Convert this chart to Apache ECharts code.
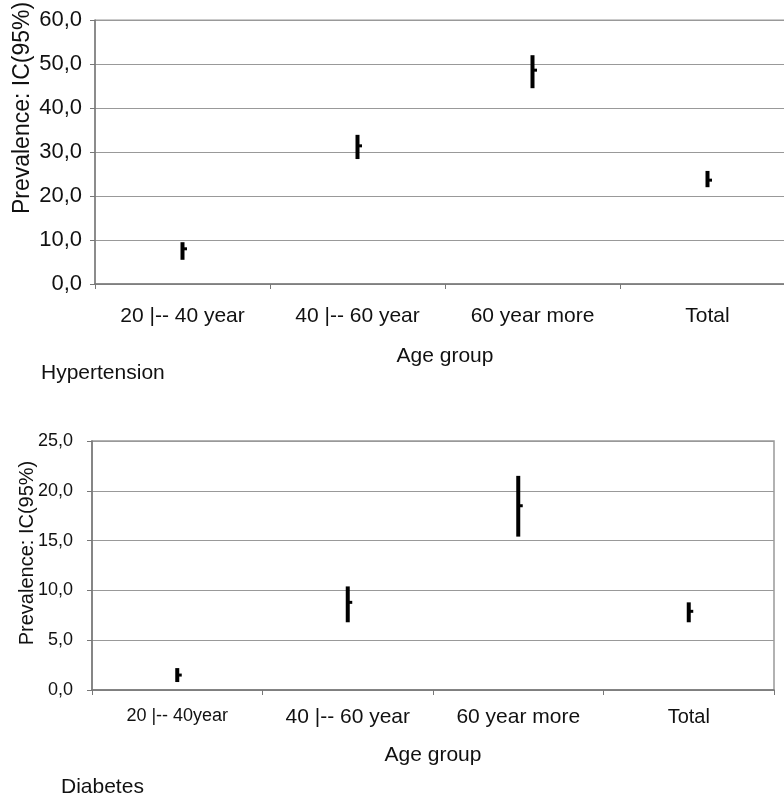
<!DOCTYPE html>
<html>
<head>
<meta charset="utf-8">
<script src="https://cdn.jsdelivr.net/npm/echarts@6/dist/echarts.min.js"></script>
<style>
  html, body { margin: 0; padding: 0; background: #fff; }
  #chart { width: 784px; height: 793px; }
</style>
</head>
<body>
<div id="chart"></div>
<script>
// age groups (the lower panel writes the first one without a space)
const groupsHtn = ['20 |-- 40 year', '40 |-- 60 year', '60 year more', 'Total']
const groupsDm = ['20 |-- 40year', '40 |-- 60 year', '60 year more', 'Total']

// hypertension prevalence with 95% CI
const htnMean = [8.0, 31.4, 48.6, 23.6]
const htnLow = [5.5, 28.4, 44.5, 22.0]
const htnHigh = [9.5, 33.9, 52.0, 25.7]

// diabetes prevalence with 95% CI
const dmMean = [1.5, 8.8, 18.5, 7.9]
const dmLow = [0.8, 6.8, 15.4, 6.8]
const dmHigh = [2.2, 10.4, 21.5, 8.8]

const font = "'Liberation Sans', Arial, sans-serif"
const fmt = v => v.toFixed(1).replace('.', ',')

function ciData(mean, low, high) {
  return mean.map((m, i) => [i, low[i], high[i], m])
}

// thick vertical CI bar with a small notch on the right at the mean
function renderCI(params, api) {
  const top = api.coord([api.value(0), api.value(2)])
  const bot = api.coord([api.value(0), api.value(1)])
  const mid = api.coord([api.value(0), api.value(3)])
  return {
    type: 'group',
    children: [
      {
        type: 'line',
        shape: { x1: top[0], y1: top[1], x2: bot[0], y2: bot[1] },
        style: { stroke: '#000', lineWidth: 4 }
      },
      {
        type: 'rect',
        shape: { x: mid[0], y: mid[1] - 1.5, width: 4.5, height: 3 },
        style: { fill: '#000' }
      }
    ]
  }
}

function xAxisFor(gridIndex, groups, sizes, labelMargin, nameGap) {
  return {
    type: 'category',
    gridIndex,
    data: groups.map((g, i) => ({ value: g, textStyle: { fontSize: sizes[i] } })),
    axisLine: { lineStyle: { color: '#777', width: 1.5 } },
    axisTick: { show: true, length: 5, lineStyle: { color: '#777' } },
    axisLabel: { color: '#111', fontFamily: font, margin: labelMargin, interval: 0 },
    name: 'Age group',
    nameLocation: 'middle',
    nameGap,
    nameTextStyle: { color: '#111', fontFamily: font, fontSize: 21 }
  }
}

function yAxisFor(gridIndex, max, interval, labelSize, labelMargin) {
  return {
    type: 'value',
    gridIndex,
    min: 0,
    max,
    interval,
    axisLine: { show: true, lineStyle: { color: '#777', width: 1.5 } },
    axisTick: { show: true, length: 5, lineStyle: { color: '#777' } },
    axisLabel: { color: '#111', fontFamily: font, fontSize: labelSize, margin: labelMargin, formatter: fmt },
    splitLine: { lineStyle: { color: '#999', width: 1 } }
  }
}

// y axis titles sit a little off-centre in the original, so place them by hand
function yTitle(x, y, size) {
  return {
    type: 'text',
    x,
    y,
    rotation: Math.PI / 2,
    style: {
      text: 'Prevalence: IC(95%)',
      fontFamily: font,
      fontSize: size,
      fill: '#111',
      align: 'center',
      verticalAlign: 'middle'
    }
  }
}

const chart = echarts.init(document.getElementById('chart'))
chart.setOption({
  animation: false,
  title: [
    { text: 'Hypertension', left: 41, top: 363, textStyle: { fontFamily: font, fontSize: 21, fontWeight: 'normal', color: '#111' }, padding: 0 },
    { text: 'Diabetes', left: 61, top: 777, textStyle: { fontFamily: font, fontSize: 21, fontWeight: 'normal', color: '#111' }, padding: 0 }
  ],
  graphic: [
    yTitle(23, 108, 23),
    yTitle(27, 553, 20)
  ],
  grid: [
    { left: 95, top: 20, width: 700, height: 264, outerBoundsMode: 'none', show: true, borderColor: '#999', borderWidth: 1 },
    { left: 92, top: 441, width: 682, height: 249, outerBoundsMode: 'none', show: true, borderColor: '#999', borderWidth: 1.5 }
  ],
  xAxis: [
    xAxisFor(0, groupsHtn, [21, 21, 21, 21], 22, 62),
    xAxisFor(1, groupsDm, [18, 21, 21, 20], 17, 55)
  ],
  yAxis: [
    yAxisFor(0, 60, 10, 22, 13),
    yAxisFor(1, 25, 5, 18, 19)
  ],
  series: [
    {
      name: 'Hypertension',
      type: 'custom',
      xAxisIndex: 0,
      yAxisIndex: 0,
      renderItem: renderCI,
      encode: { x: 0, y: [1, 2, 3] },
      data: ciData(htnMean, htnLow, htnHigh)
    },
    {
      name: 'Diabetes',
      type: 'custom',
      xAxisIndex: 1,
      yAxisIndex: 1,
      renderItem: renderCI,
      encode: { x: 0, y: [1, 2, 3] },
      data: ciData(dmMean, dmLow, dmHigh)
    }
  ]
})
</script>
</body>
</html>
